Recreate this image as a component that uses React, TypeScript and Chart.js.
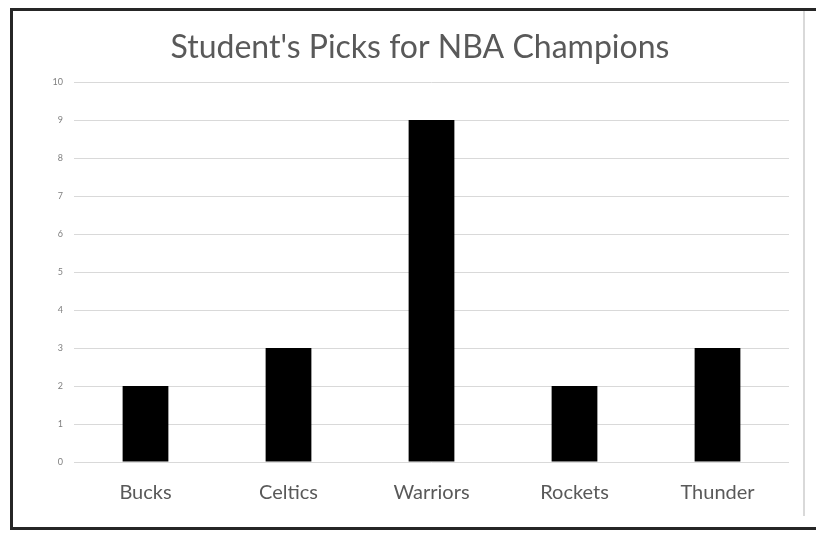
import React, { useEffect, useRef } from "react";
import { Chart, registerables } from "chart.js";

Chart.register(...registerables);

const categories: string[] = ["Bucks", "Celtics", "Warriors", "Rockets", "Thunder"];
const picks: number[] = [2, 3, 9, 2, 3];
const chartTitle = "Student's Picks for NBA Champions";
const yMin = 0;
const yMax = 10;
const yStep = 1;

export default function App() {
  const canvasRef = useRef<HTMLCanvasElement | null>(null);

  useEffect(() => {
    if (!canvasRef.current) return;
    const chart = new Chart(canvasRef.current, {
      type: "bar",
      data: {
        labels: categories,
        datasets: [
          {
            label: "Picks",
            data: picks,
            backgroundColor: "#000000",
            borderWidth: 0,
            categoryPercentage: 1,
            barPercentage: 0.32,
          },
        ],
      },
      options: {
        animation: false,
        responsive: true,
        maintainAspectRatio: false,
        layout: { padding: { left: 38, right: 14, top: 0, bottom: 0 } },
        plugins: {
          legend: { display: false },
          tooltip: { enabled: false },
          title: {
            display: true,
            text: chartTitle,
            color: "#595959",
            font: { family: "Lato, 'Open Sans', sans-serif", size: 32, weight: "normal", lineHeight: 1.2 },
            padding: { top: 17, bottom: 15.6 },
          },
        },
        scales: {
          x: {
            grid: { display: false, drawTicks: false },
            border: { display: false },
            ticks: {
              color: "#595959",
              font: { family: "Lato, 'Open Sans', sans-serif", size: 20 },
              padding: 19,
            },
            afterFit: (scale: any) => {
              scale.height = 54;
            },
          },
          y: {
            min: yMin,
            max: yMax,
            grid: { color: "#d9d9d9", lineWidth: 1, drawTicks: false },
            border: { display: false },
            ticks: {
              stepSize: yStep,
              color: "#7f7f7f",
              font: { family: "Lato, 'Open Sans', sans-serif", size: 9 },
              padding: 11,
            },
            afterFit: (scale: any) => {
              scale.width = 23;
            },
          },
        },
      },
    });
    return () => chart.destroy();
  }, []);

  return (
    <div
      style={{
        marginLeft: 2,
        borderTop: "3px solid #262626",
        borderLeft: "3px solid #262626",
        borderBottom: "3px solid #262626",
        width: 811,
        height: 516,
        background: "#ffffff",
      }}
    >
      <div
        style={{
          position: "relative",
          width: 790,
          height: 505,
          borderRight: "2px solid #d9d9d9",
        }}
      >
        <canvas ref={canvasRef} />
      </div>
    </div>
  );
}
